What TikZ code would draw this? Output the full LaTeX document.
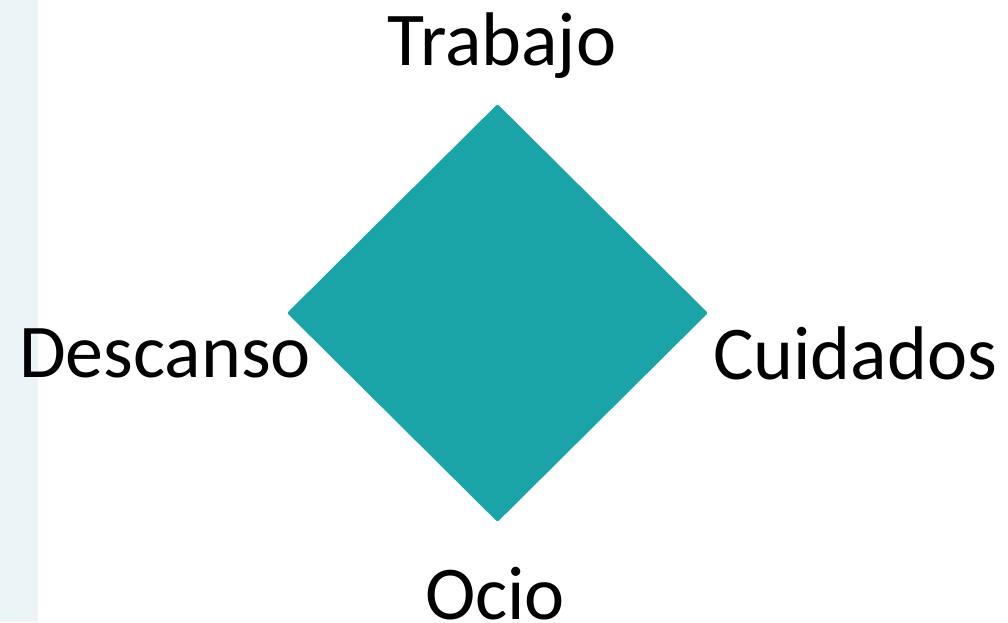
\documentclass[tikz,border=0pt]{standalone}
\usepackage{fontspec}
\setmainfont{Carlito}
\usepackage{xcolor}
\usetikzlibrary{shapes.geometric, positioning}
\definecolor{tealfill}{HTML}{1AA4A8}
\definecolor{stripblue}{HTML}{EBF5F7}

\begin{document}
\begin{tikzpicture}[x=1pt, y=-1pt,
  lbl/.style={anchor=base, inner sep=0pt, font=\fontsize{76}{80}\selectfont}]
% Frame
\useasboundingbox (0,0) rectangle (1008,622);
\fill[stripblue] (0,0) rectangle (38,622);

% Diamond
\node[diamond, fill=tealfill, inner sep=0pt, minimum width=421pt, minimum height=418pt, rounded corners=2pt] (dia) at (497.5,313) {};

% Labels
\node[lbl] (trabajo) at (502,65) {Trabajo};
\node[lbl] (descanso) at (165,377) {Descanso};
\node[lbl] (cuidados) at (855,379) {Cuidados};
\node[lbl] (ocio) at (495,619) {Ocio};
\end{tikzpicture}
\end{document}
